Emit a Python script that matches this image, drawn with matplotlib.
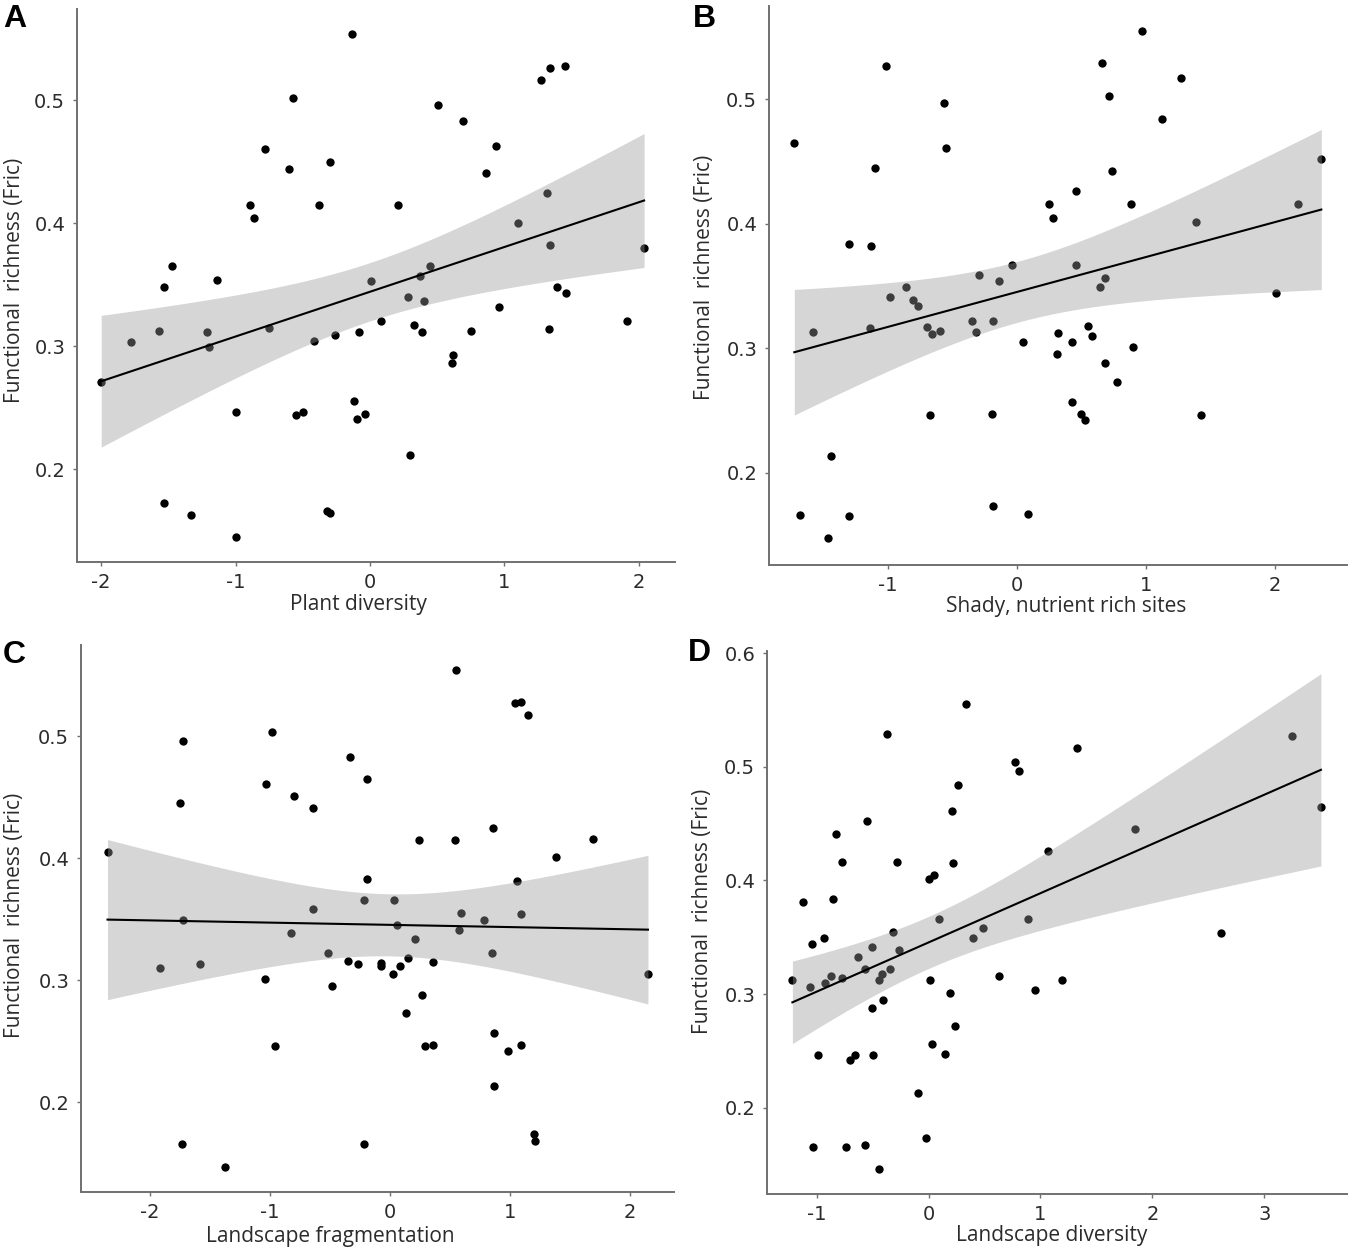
import matplotlib
matplotlib.use('Agg')
import matplotlib.pyplot as plt
import numpy as np

plt.rcParams['font.family'] = ['DejaVu Sans']
plt.rcParams['axes.unicode_minus'] = False

# ---------------- data ----------------
xA = [-2.00, -1.78, -1.57, -1.21, -1.20, -0.75, -0.42, -0.26, -0.08, 0.08, 0.33, 0.39, 0.96, 0.75, 1.33,
      1.91, 0.61, 0.62, -1.00, -0.55, -0.50, -0.12, -0.10, -0.04, 0.30, -1.53, -1.33, -1.00, -0.32, -0.30,
      -0.13, -0.57, 0.51, 0.69, 1.27, 1.34, 1.45, -0.78, -0.30, -0.60, 0.94, 0.86, -0.89, -0.86, -0.38,
      0.21, 1.32, 1.10, 1.34, 2.04, -1.47, -1.53, -1.14, 0.01, 0.37, 0.45, 0.28, 0.40, 1.39, 1.46]
yA = [0.271, 0.303, 0.312, 0.311, 0.299, 0.315, 0.304, 0.309, 0.311, 0.320, 0.317, 0.311, 0.332, 0.312, 0.314,
      0.320, 0.286, 0.293, 0.246, 0.244, 0.246, 0.255, 0.241, 0.245, 0.211, 0.172, 0.163, 0.145, 0.166, 0.164,
      0.554, 0.502, 0.496, 0.483, 0.516, 0.526, 0.528, 0.460, 0.450, 0.444, 0.463, 0.441, 0.415, 0.404, 0.415,
      0.415, 0.424, 0.400, 0.382, 0.380, 0.365, 0.348, 0.354, 0.353, 0.357, 0.365, 0.340, 0.337, 0.348, 0.343]

xB = [-1.724, -1.016, -1.10, -0.566, -0.547, -1.30, -1.13, 0.974, 0.659, 0.713, 1.271, 1.124, 0.741, 0.462, 0.248,
      0.279, 0.884, 2.361, 2.182, 1.388, 2.008, -0.039, -0.290, -0.140, 0.462, 0.682, 0.643, -0.862, -0.984, -0.806,
      -0.767, -1.581, -1.140, -0.699, -0.659, -0.593, -0.350, -0.313, -0.186, 0.047, 0.322, 0.316, 0.432, 0.550, 0.581,
      0.898, 0.688, 0.781, 0.432, 0.496, 0.527, 1.426, -0.674, -0.194, -1.442, -1.682, -1.298, -1.461, -0.181, 0.089]
yB = [0.465, 0.527, 0.445, 0.497, 0.461, 0.384, 0.382, 0.555, 0.529, 0.503, 0.517, 0.484, 0.442, 0.426, 0.416,
      0.405, 0.416, 0.452, 0.416, 0.401, 0.344, 0.367, 0.359, 0.354, 0.367, 0.356, 0.349, 0.349, 0.341, 0.339,
      0.334, 0.313, 0.316, 0.317, 0.311, 0.314, 0.322, 0.313, 0.322, 0.305, 0.312, 0.295, 0.305, 0.318, 0.310,
      0.301, 0.288, 0.273, 0.257, 0.247, 0.242, 0.246, 0.246, 0.247, 0.213, 0.166, 0.165, 0.147, 0.173, 0.167]

xC = [-2.354, -1.729, -1.750, -1.729, -0.983, -1.033, -0.800, -0.644, -0.333, -0.192, -0.644, -0.825, -0.192, -0.220,
      0.033, 0.058, 0.208, 0.242, 0.540, 0.548, 1.042, 1.096, 1.154, 0.858, 1.383, 1.692, 1.056, 0.595, 1.096, 0.782,
      0.577, -1.917, -1.580, -0.520, -0.352, -0.264, -0.075, -0.075, 0.087, 0.150, 0.361, 0.848, -1.042, -0.483,
      0.028, 0.267, 0.133, 2.150, -0.958, 0.292, 0.358, 0.869, 0.986, 1.096, 0.869, -1.733, -1.372, -0.2125, 1.198, 1.208]
yC = [0.405, 0.496, 0.445, 0.349, 0.503, 0.461, 0.451, 0.441, 0.483, 0.465, 0.358, 0.339, 0.383, 0.366,
      0.366, 0.345, 0.334, 0.415, 0.415, 0.554, 0.527, 0.528, 0.517, 0.425, 0.401, 0.416, 0.381, 0.355, 0.354, 0.349,
      0.341, 0.310, 0.313, 0.322, 0.316, 0.313, 0.314, 0.312, 0.312, 0.318, 0.315, 0.322, 0.301, 0.295,
      0.305, 0.288, 0.273, 0.305, 0.246, 0.246, 0.247, 0.257, 0.242, 0.247, 0.213, 0.166, 0.147, 0.166, 0.174, 0.168]

xD = [-1.118, -0.855, 0.000, 0.048, -1.040, -0.939, -0.317, 0.092, -0.509, -0.628, -0.266, 0.401, 0.487, 0.891,
      -1.217, -1.058, -0.930, -0.873, -0.774, -0.565, -0.413, -0.341, -0.446, 0.012, 0.195, 0.630, -0.502, -0.410,
      -0.830, -0.770, -0.550, -0.373, -0.284, 0.332, 0.263, 0.213, 0.220, 0.771, 0.805, 1.067, 1.327, 1.848, 2.614,
      3.249, 3.507, -0.985, -0.700, -0.655, -0.500, 0.031, 0.147, 0.239, -0.091, -0.022, -1.035, -0.738, -0.565,
      -0.446, 0.955, 1.193]
yD = [0.381, 0.384, 0.401, 0.405, 0.344, 0.349, 0.355, 0.366, 0.341, 0.333, 0.339, 0.349, 0.358, 0.366,
      0.312, 0.306, 0.310, 0.316, 0.314, 0.322, 0.318, 0.322, 0.312, 0.312, 0.301, 0.316, 0.288, 0.295,
      0.441, 0.416, 0.452, 0.529, 0.416, 0.555, 0.484, 0.461, 0.415, 0.504, 0.496, 0.426, 0.517, 0.445, 0.354,
      0.527, 0.465, 0.246, 0.242, 0.246, 0.246, 0.256, 0.247, 0.272, 0.213, 0.173, 0.165, 0.165, 0.167,
      0.146, 0.304, 0.312]

letters = ['A', 'B', 'C', 'D']
xlabels = ['Plant diversity', 'Shady, nutrient rich sites', 'Landscape fragmentation', 'Landscape diversity']
ylabel = 'Functional  richness (Fric)'
xticksA = [-2, -1, 0, 1, 2]
xticksB = [-1, 0, 1, 2]
xticksC = [-2, -1, 0, 1, 2]
xticksD = [-1, 0, 1, 2, 3]
yticks_abc = [0.2, 0.3, 0.4, 0.5]
yticks_d = [0.2, 0.3, 0.4, 0.5, 0.6]

# ---------------- layout ----------------
W, H = 1350, 1251
fig = plt.figure(figsize=(W / 100, H / 100), dpi=100)


def rect(l, r, t, b):
    return [l / W, (H - b) / H, (r - l) / W, (b - t) / H]


specs = [
    dict(rect=rect(77, 675, 9, 562), x=xA, y=yA, xt=xticksA, yt=yticks_abc,
         xlim=(-2.18, 2.27), ylim=(0.1244, 0.574), ylab=(-0.087, 0.51), xlab=(0.47, -0.058),
         letter=(3, 19)),
    dict(rect=rect(769, 1347, 6, 565), x=xB, y=yB, xt=xticksB, yt=yticks_abc,
         xlim=(-1.92, 2.56), ylim=(0.1257, 0.575), ylab=(-0.093, 0.515), xlab=(0.514, -0.056),
         letter=(693, 19)),
    dict(rect=rect(81, 674, 645, 1192), x=xC, y=yC, xt=xticksC, yt=yticks_abc,
         xlim=(-2.575, 2.367), ylim=(0.1265, 0.5746), ylab=(-0.094, 0.505), xlab=(0.42, -0.062),
         letter=(3, 655)),
    dict(rect=rect(767, 1347, 651, 1194), x=xD, y=yD, xt=xticksD, yt=yticks_d,
         xlim=(-1.444, 3.74), ylim=(0.124, 0.602), ylab=(-0.093, 0.52), xlab=(0.49, -0.058),
         letter=(688, 653)),
]

spine_col = '#707070'
text_col = '#2b2b2b'
T_CRIT = 2.0017  # t(0.975, df=58)
label_font = ['Open Sans', 'DejaVu Sans']

for i, sp in enumerate(specs):
    ax = fig.add_axes(sp['rect'])
    x = np.asarray(sp['x'], dtype=float)
    y = np.asarray(sp['y'], dtype=float)
    ax.scatter(x, y, s=36, color='black', zorder=2, linewidths=0)
    # linear model with 95% confidence band
    n = len(x)
    b, a = np.polyfit(x, y, 1)
    xs = np.linspace(x.min(), x.max(), 200)
    yhat = a + b * xs
    resid = y - (a + b * x)
    s = np.sqrt(np.sum(resid ** 2) / (n - 2))
    se = s * np.sqrt(1.0 / n + (xs - x.mean()) ** 2 / np.sum((x - x.mean()) ** 2))
    ax.fill_between(xs, yhat - T_CRIT * se, yhat + T_CRIT * se, color='#999999', alpha=0.4,
                    linewidth=0, zorder=3)
    ax.plot(xs, yhat, color='black', lw=1.5, zorder=4)

    ax.set_xlim(*sp['xlim'])
    ax.set_ylim(*sp['ylim'])
    ax.set_xticks(sp['xt'])
    ax.set_xticklabels([str(v) for v in sp['xt']])
    ax.set_yticks(sp['yt'])
    ax.set_yticklabels(['%.1f' % v for v in sp['yt']])
    for side in ['top', 'right']:
        ax.spines[side].set_visible(False)
    for side in ['left', 'bottom']:
        ax.spines[side].set_color(spine_col)
        ax.spines[side].set_linewidth(1.4)
    ax.tick_params(axis='both', length=3, width=1.0, color=spine_col, labelsize=14,
                   labelcolor=text_col)
    ax.tick_params(axis='y', pad=5.5)
    ax.tick_params(axis='x', pad=5)
    ax.set_facecolor('white')
    ax.set_ylabel(ylabel, fontsize=15, color=text_col, family=label_font)
    ax.yaxis.set_label_coords(*sp['ylab'])
    ax.set_xlabel(xlabels[i], fontsize=15, color=text_col, family=label_font)
    ax.xaxis.set_label_coords(*sp['xlab'])
    lx, ly = sp['letter']
    fig.text(lx / W, 1 - ly / H, letters[i], fontsize=23, fontweight='bold',
             family=['Liberation Sans', 'DejaVu Sans'], ha='left', va='center', color='black')

fig.savefig('out.png', dpi=100, facecolor='white')
